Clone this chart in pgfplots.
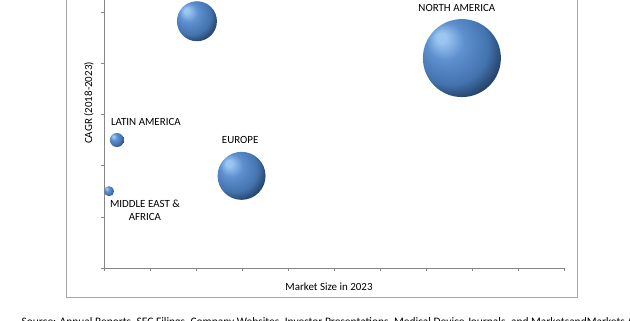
\documentclass[border=0pt]{standalone}
\usepackage{pgfplots}
\pgfplotsset{compat=1.18}
\usepackage{fontspec}
\setmainfont{Carlito}
\definecolor{sphA}{HTML}{9CC6F2}
\definecolor{sphB}{HTML}{5E90CF}
\definecolor{sphC}{HTML}{4474AF}
\definecolor{sphD}{HTML}{1A3252}
\definecolor{axgray}{HTML}{868686}
\definecolor{framegray}{HTML}{A6A6A6}
\pgfdeclareradialshading{sphere}{\pgfpoint{-14bp}{14bp}}{color(0bp)=(sphA); color(3bp)=(sphA); color(12bp)=(sphB); color(24bp)=(sphC); color(34bp)=(sphD); color(50bp)=(sphD)}
\pgfdeclareplotmark{sphere}{\pgfpathcircle{\pgfpointorigin}{\pgfplotmarksize}\pgfshadepath{sphere}{0}\pgfusepath{discard}}
\newcommand{\lbl}{\fontsize{11}{13}\selectfont}
\begin{document}
\begin{tikzpicture}[x=1bp,y=1bp]
\draw[framegray, line width=1bp] (66,360) -- (66,23) -- (577,23) -- (577,360);
\begin{axis}[
  at={(104bp,52bp)}, anchor=south west,
  scale only axis, x=46bp, y=51.2bp,
  xmin=0, xmax=10, ymin=0, ymax=6,
  axis lines*=left,
  axis line style={draw=axgray, line width=0.8bp},
  tick style={draw=axgray, line width=0.6bp},
  tick align=outside, major tick length=3bp,
  xtick={0,...,10}, ytick={0,...,6},
  xticklabels={}, yticklabels={},
  clip=false,
]
% top bubble (its label lies above the visible area of the reference)
\addplot[only marks, mark=sphere, mark size=20bp] coordinates {(2.02,4.82)};
% North America
\addplot[only marks, mark=sphere, mark size=39bp] coordinates {(7.78,4.10)};
% Latin America
\addplot[only marks, mark=sphere, mark size=7bp] coordinates {(0.28,2.50)};
% Europe
\addplot[only marks, mark=sphere, mark size=24bp] coordinates {(2.99,1.80)};
% Middle East & Africa
\addplot[only marks, mark=sphere, mark size=5bp] coordinates {(0.11,1.50)};
\node[font=\lbl] at (axis cs:7.67,5.08) {NORTH AMERICA};
\node[font=\lbl] at (axis cs:0.91,2.85) {LATIN AMERICA};
\node[font=\lbl] at (axis cs:2.96,2.50) {EUROPE};
\node[font=\lbl, align=center] at (axis cs:0.89,1.13) {MIDDLE EAST \&\\AFRICA};
\end{axis}
\node[font=\lbl, rotate=90] at (89,217) {CAGR (2018-2023)};
\node[font=\lbl] at (329,33) {Market Size in 2023};
\node[anchor=base west, font=\fontsize{11.5}{13}\selectfont] at (18,-5.5) {Source: Annual Reports, SEC Filings, Company Websites, Investor Presentations, Medical Device Journals, and MarketsandMarkets Analysis};
\pgfresetboundingbox
\useasboundingbox (0,0) rectangle (630,320);
\end{tikzpicture}
\end{document}
